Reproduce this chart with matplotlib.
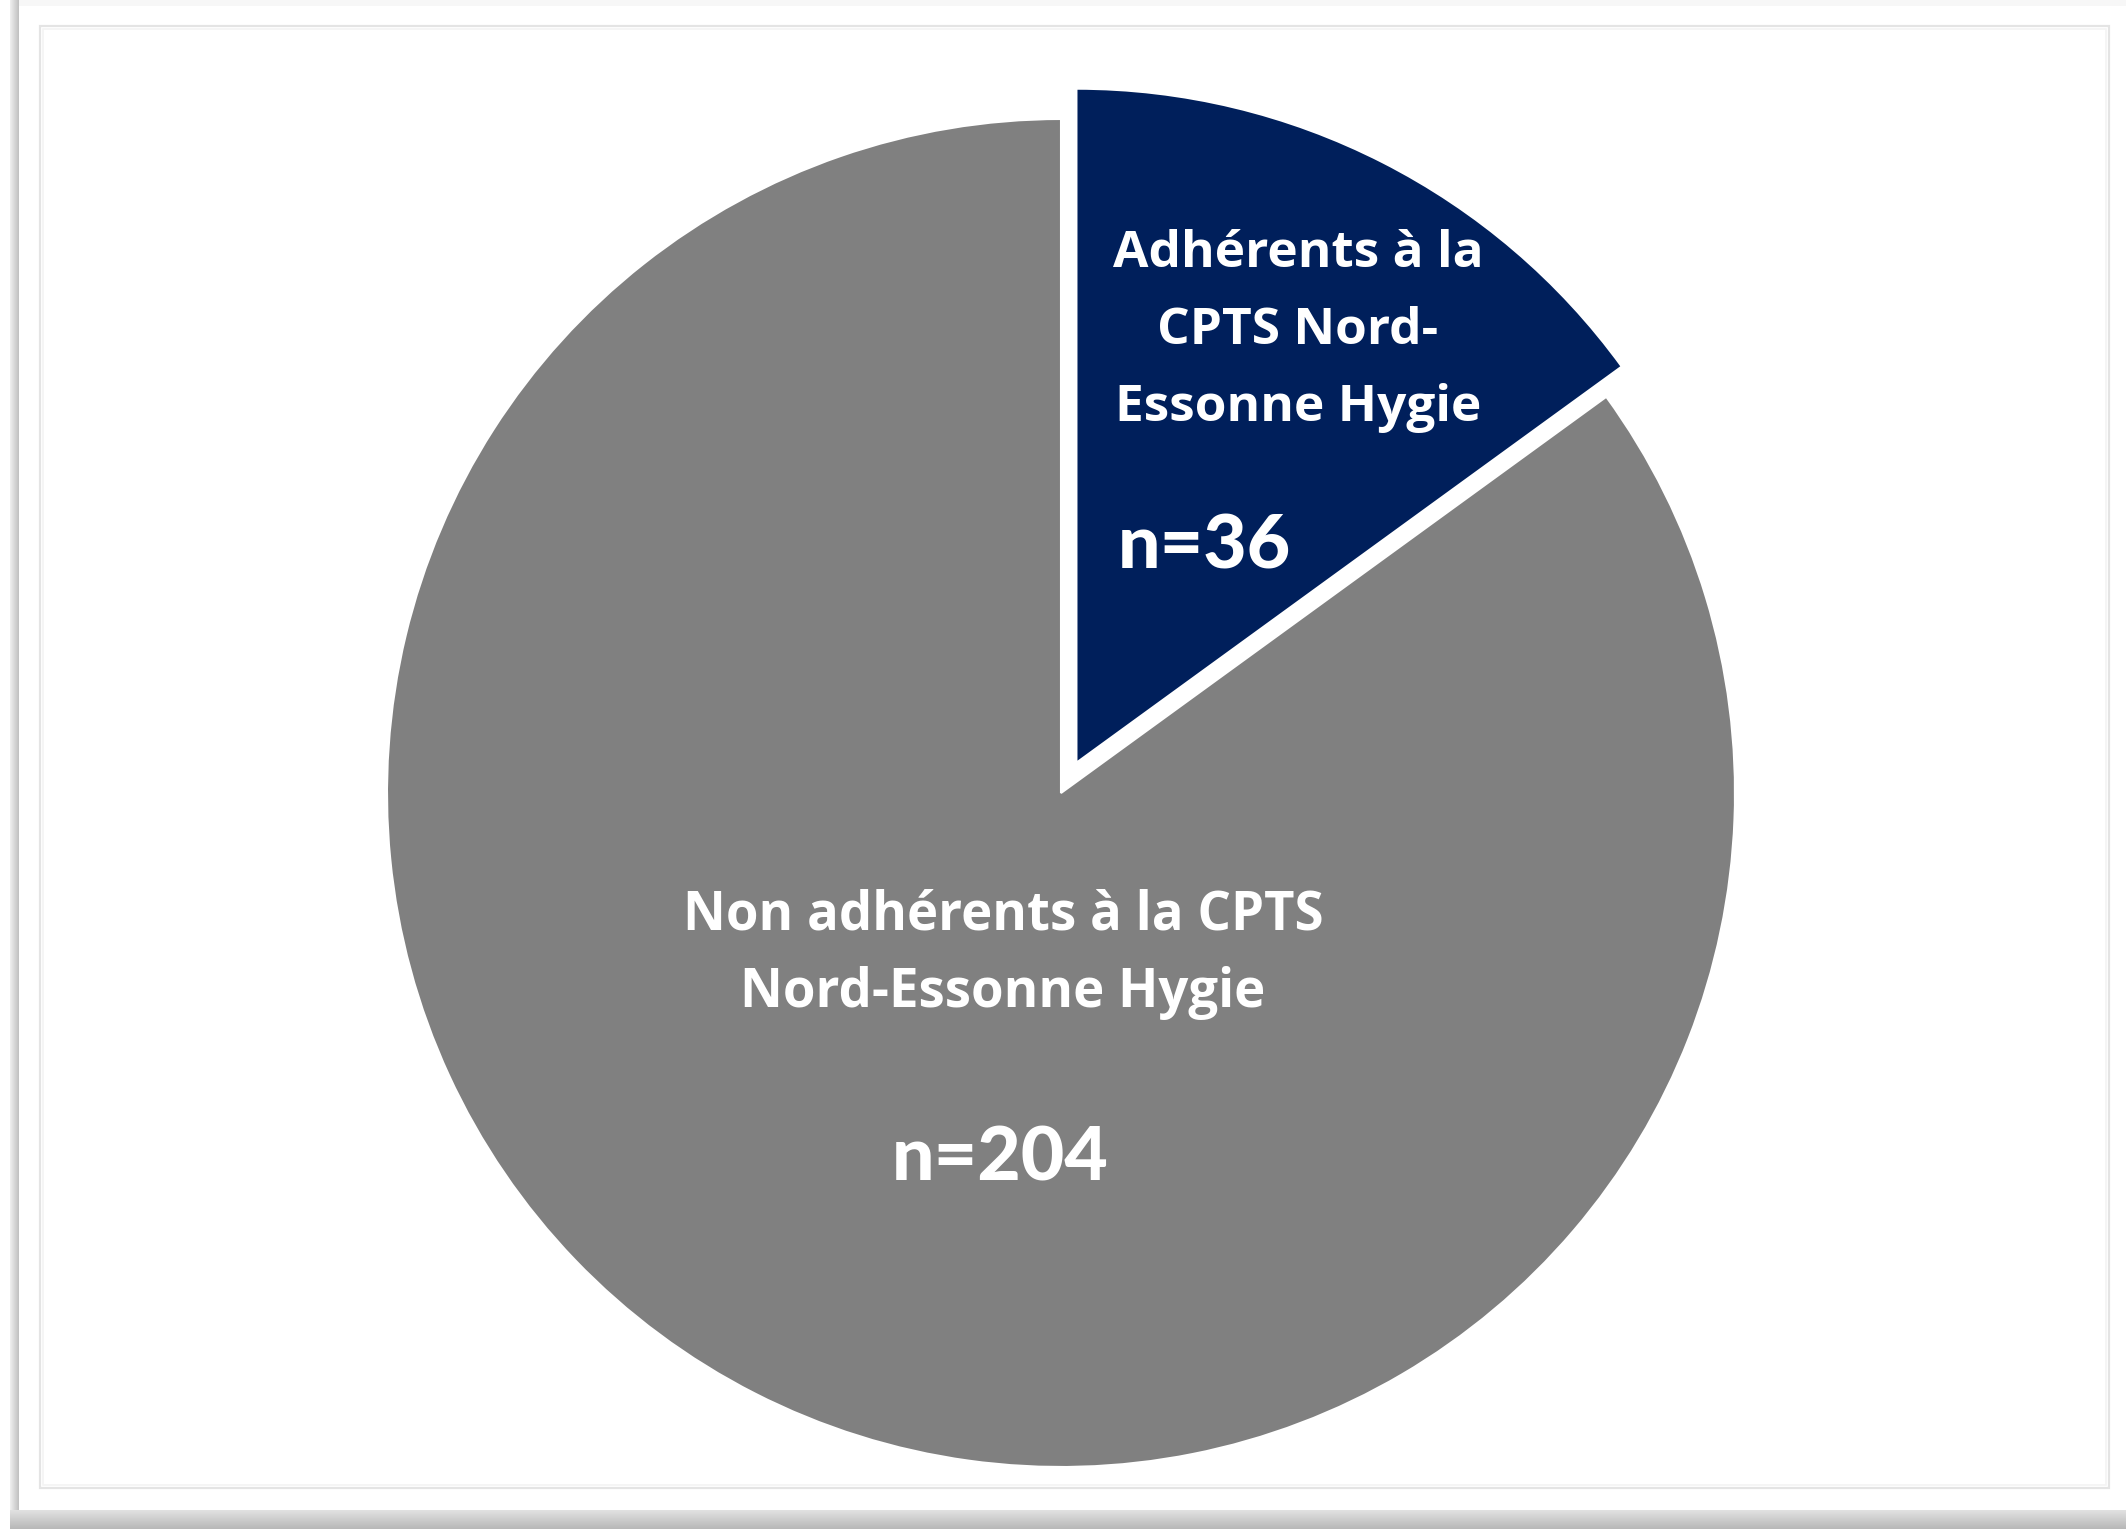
import matplotlib
matplotlib.use("Agg")
import matplotlib.pyplot as plt
from matplotlib.patches import Rectangle
import numpy as np

# ---- data ----
categories = ["Adhérents à la\nCPTS Nord-\nEssonne Hygie",
              "Non adhérents à la CPTS\nNord-Essonne Hygie"]
counts = [36, 204]
colors = ["#001F5B", "#808080"]
count_labels = [f"n={c}" for c in counts]

W, H = 2126, 1529
fig = plt.figure(figsize=(W / 100, H / 100), dpi=100)
ax = fig.add_axes([0, 0, 1, 1])
ax.set_xlim(0, W)
ax.set_ylim(0, H)
ax.set_aspect("equal")
ax.axis("off")

# ---- card frame with shadow ----
for i, c in enumerate(np.linspace(0.93, 0.76, 9)):
    ax.add_patch(Rectangle((10 + i, 0), 1.2, H, color=str(c), lw=0, zorder=0))
for i, c in enumerate(np.linspace(0.88, 0.72, 19)):
    ax.add_patch(Rectangle((10, 19 - i - 1), W, 1.2, color=str(c), lw=0, zorder=0))
ax.add_patch(Rectangle((19, H - 6), W, 6, color="#f7f7f7", lw=0, zorder=0))
ax.add_patch(Rectangle((40, H - 1488), 2109 - 40, 1488 - 26, fill=False,
                       ec="#e4e4e4", lw=1.6, zorder=1))
ax.add_patch(Rectangle((43, H - 1485), 2109 - 46, 1488 - 32, fill=False,
                       ec="#f4f4f4", lw=1.2, zorder=1))

# ---- pie ----
cx, cy, R = 1061, H - 793, 674
ax.pie(counts, colors=colors, startangle=90, counterclock=False,
       explode=[34, 0], center=(cx, cy), radius=R, frame=True,
       wedgeprops=dict(edgecolor="white", linewidth=1.5))
ax.set_xlim(0, W)
ax.set_ylim(0, H)
ax.axis("off")

lab_font = dict(family=["Open Sans", "DejaVu Sans"], weight="bold", color="white")
num_font = dict(family=["Lato", "DejaVu Sans"], weight="black", color="white")

label_pos = [(1298, 267), (1003, 930)]
label_size = [37, 38]
line_step = 77
for text, (x, y0), fs in zip(categories, label_pos, label_size):
    for k, line in enumerate(text.split("\n")):
        ax.text(x, H - (y0 + k * line_step), line, ha="center", va="baseline",
                fontsize=fs, **lab_font)

ax.text(1204, H - 547, count_labels[0], ha="center", va="center",
        fontsize=54, **num_font)
ax.text(1000, H - 1159, count_labels[1], ha="center", va="center",
        fontsize=54, **num_font)

fig.savefig("out.png", dpi=100, facecolor="white")
